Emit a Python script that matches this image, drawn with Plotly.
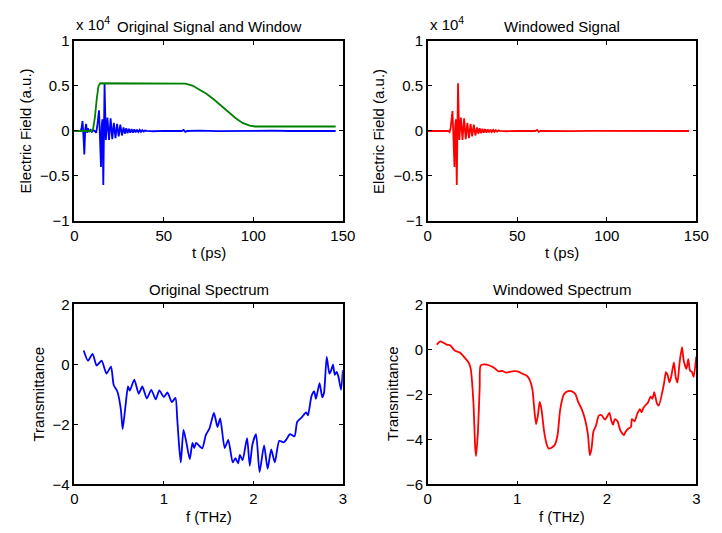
import numpy as np
import plotly.graph_objects as go

# ---- time-domain signal (units of 1e4) ----
sig_t = [0, 2, 3.6, 4.1, 4.6, 5.1, 5.6, 6.1, 6.6, 7.1, 7.6, 8.3, 9.0, 9.8, 10.6, 11.4,
         12.2, 12.8, 13.3, 13.8, 14.3, 14.9, 15.3, 15.7, 16.2, 16.9,
         17.6, 18.5, 19.4, 20.3, 21.2, 22.1, 23.0, 23.9, 24.8, 25.7, 26.6, 27.5,
         28.25, 29.0, 29.75, 30.5, 31.25, 32.0, 32.75, 33.5, 34.25, 35.0, 35.75, 36.5,
         37.25, 38.0, 38.75, 39.5,
         40.5, 44, 50, 56, 60, 61, 62, 63, 70, 80, 90, 100, 110, 120, 130, 140, 146]
sig_v = [0, 0, 0.0, 0.04, 0.11, -0.05, -0.26, 0.02, 0.08, -0.02, 0.03, -0.01, 0.01,
         -0.01, 0.01, 0.0, -0.02, 0.05, 0.15, 0.23, -0.05, -0.40, 0.05, 0.13, -0.60, 0.53,
         -0.10, 0.15, -0.10, 0.14, -0.09, 0.09, -0.08, 0.08, -0.06, 0.07, -0.05, 0.04,
         -0.03, 0.03, -0.025, 0.025, -0.02, 0.02, -0.018, 0.018, -0.015, 0.015, -0.012,
         0.012, -0.01, 0.01, -0.006, 0.005,
         0.0, -0.003, 0.002, 0, 0, 0.012, -0.01, 0, 0.003, -0.002, 0.002, 0,
         0.003, 0, 0.002, 0, 0]

# ---- window function (scaled for display) ----
win_t = [0, 9.5, 10.5, 11.5, 12.5, 13.5, 14.5, 58, 62, 66, 70, 74, 78, 82, 86, 90,
         94, 98, 101, 146]
win_v = [0.0, 0.0, 0.02, 0.15, 0.35, 0.5, 0.53, 0.53, 0.525, 0.505, 0.46, 0.41, 0.35,
         0.28, 0.21, 0.145, 0.09, 0.06, 0.05, 0.05]

# ---- spectra ----
orig_f = [0.105, 0.153, 0.204, 0.25, 0.305, 0.36, 0.41, 0.44, 0.48, 0.52, 0.54, 0.57,
          0.60, 0.62, 0.67, 0.72, 0.76, 0.81, 0.86, 0.91, 0.95, 1.00, 1.04, 1.09, 1.13,
          1.15, 1.17, 1.19, 1.22, 1.25, 1.29, 1.32, 1.34, 1.36, 1.40, 1.43, 1.47, 1.51,
          1.56, 1.60, 1.63, 1.68, 1.72, 1.77, 1.80, 1.83, 1.85, 1.88, 1.93, 1.96, 1.99,
          2.03, 2.07, 2.12, 2.16, 2.20, 2.24, 2.29, 2.34, 2.37, 2.41, 2.46, 2.49, 2.54,
          2.59, 2.61, 2.65, 2.68, 2.70, 2.74, 2.77, 2.79, 2.82, 2.85, 2.87, 2.89, 2.91,
          2.93, 2.95, 2.98, 3.0]
orig_v = [0.46, 0.12, 0.35, -0.04, 0.12, -0.31, -0.08, -0.69, -0.9, -1.5, -2.16, -1.44,
          -0.74, -0.88, -0.51, -0.98, -0.74, -1.14, -0.85, -1.17, -0.87, -1.09, -0.94,
          -1.26, -1.12, -1.82, -2.68, -3.27, -2.19, -2.57, -3.16, -2.62, -2.79, -2.62,
          -2.73, -2.8, -2.35, -2.14, -1.62, -2.09, -1.8, -2.79, -2.52, -3.27, -3.13, -3.3,
          -3.02, -3.2, -2.46, -3.38, -2.67, -2.33, -3.59, -2.7, -3.48, -2.84, -3.27,
          -2.55, -2.6, -2.5, -2.33, -2.4, -1.92, -1.77, -1.6, -1.7, -1.06, -0.9, -1.15,
          -0.63, -1.1, -0.95, 0.25, -0.31, -0.2, -0.01, -0.35, -0.25, -0.4, -0.85, -0.2]

win_f = [0.10, 0.14, 0.18, 0.21, 0.25, 0.30, 0.36, 0.41, 0.46, 0.48, 0.51, 0.53, 0.54,
         0.56, 0.58, 0.59, 0.63, 0.69, 0.74, 0.79, 0.83, 0.88, 0.94, 1.00, 1.07, 1.10,
         1.14, 1.17, 1.19, 1.21, 1.23, 1.25, 1.27, 1.30, 1.33, 1.35, 1.39, 1.42, 1.45,
         1.48, 1.52, 1.56, 1.61, 1.65, 1.68, 1.72, 1.76, 1.79, 1.81, 1.83, 1.85, 1.88,
         1.91, 1.94, 1.98, 2.03, 2.05, 2.07, 2.09, 2.12, 2.15, 2.19, 2.21, 2.24, 2.27,
         2.28, 2.31, 2.34, 2.37, 2.39, 2.41, 2.44, 2.46, 2.49, 2.51, 2.53, 2.56, 2.58,
         2.64, 2.66, 2.68, 2.70, 2.72, 2.75, 2.77, 2.79, 2.81, 2.84, 2.86, 2.89, 2.91,
         2.93, 2.95, 2.97, 3.0]
win_s = [0.21, 0.35, 0.28, 0.21, 0.18, -0.05, -0.15, -0.36, -0.62, -0.87, -2.37, -4.38,
         -4.74, -3.7, -1.66, -0.72, -0.67, -0.72, -0.82, -0.98, -0.96, -1.04, -0.98,
         -0.98, -1.11, -1.15, -1.37, -1.8, -2.66, -3.33, -2.95, -2.34, -2.66, -3.66,
         -4.24, -4.41, -4.35, -4.24, -3.81, -2.66, -2.01, -1.87, -1.87, -2.0, -2.34,
         -2.66, -3.16, -3.81, -4.71, -4.4, -3.66, -3.38, -2.95, -2.92, -3.12, -2.83,
         -3.16, -3.35, -3.1, -3.2, -3.59, -3.81, -3.66, -3.52, -3.45, -3.1, -3.2, -2.87,
         -2.66, -2.8, -2.59, -2.45, -2.37, -2.1, -2.2, -1.9, -2.4, -2.5, -1.51, -1.01,
         -1.15, -1.47, -1.2, -0.58, -1.24, -1.47, -0.7, 0.09, -0.52, -0.87, -0.44, -0.95,
         -1.0, -1.23, -0.32]

# windowed signal = signal multiplied by the normalised window
w_at_sig = np.interp(sig_t, win_t, win_v) / max(win_v)
windowed_v = np.array(sig_v) * w_at_sig

W, H = 722, 533
FONT = "Liberation Sans, Arial, sans-serif"
FS = 15
BLUE, GREEN, RED = "#0000FF", "#008000", "#FF0000"

# plot areas in pixels (left, right, top, bottom)
boxes = {
    1: (72, 347, 33, 219),
    2: (434, 709, 33, 219),
    3: (72, 347, 305, 491),
    4: (434, 709, 305, 491),
}

fig = go.Figure()
lw = 1.8
spl = dict(shape="spline", smoothing=0.6)
fig.add_trace(go.Scatter(x=sig_t, y=sig_v, mode="lines", line=dict(color=BLUE, width=lw),
                         xaxis="x", yaxis="y"))
fig.add_trace(go.Scatter(x=win_t, y=win_v, mode="lines", line=dict(color=GREEN, width=lw),
                         xaxis="x", yaxis="y"))
fig.add_trace(go.Scatter(x=sig_t, y=windowed_v, mode="lines", line=dict(color=RED, width=lw),
                         xaxis="x2", yaxis="y2"))
fig.add_trace(go.Scatter(x=orig_f, y=orig_v, mode="lines",
                         line=dict(color=BLUE, width=lw, **spl), xaxis="x3", yaxis="y3"))
fig.add_trace(go.Scatter(x=win_f, y=win_s, mode="lines",
                         line=dict(color=RED, width=lw, **spl), xaxis="x4", yaxis="y4"))

common = dict(showline=True, linecolor="black", linewidth=1.5, mirror="ticks",
              ticks="inside", ticklen=4, tickwidth=1, tickcolor="black",
              showgrid=False, zeroline=False,
              tickfont=dict(family=FONT, size=FS, color="black"))

layout = dict(width=W, height=H, margin=dict(l=0, r=0, t=0, b=0),
              paper_bgcolor="white", plot_bgcolor="white", showlegend=False)

xranges = {1: [0, 150], 2: [0, 150], 3: [0, 3], 4: [0, 3]}
xticks = {1: [0, 50, 100, 150], 2: [0, 50, 100, 150], 3: [0, 1, 2, 3], 4: [0, 1, 2, 3]}
yranges = {1: [-1, 1], 2: [-1, 1], 3: [-4, 2], 4: [-6, 2]}
yticks = {1: [-1, -0.5, 0, 0.5, 1], 2: [-1, -0.5, 0, 0.5, 1],
          3: [-4, -2, 0, 2], 4: [-6, -4, -2, 0, 2]}

for i, (l, r, t, b) in boxes.items():
    sx = "" if i == 1 else str(i)
    layout["xaxis" + sx] = dict(common, domain=[l / W, r / W], range=xranges[i],
                                tickvals=xticks[i], anchor="y" + sx)
    layout["yaxis" + sx] = dict(common, domain=[1 - b / H, 1 - t / H], range=yranges[i],
                                tickvals=yticks[i], anchor="x" + sx)

fig.update_layout(**layout)

titles = {1: "Original Signal and Window", 2: "Windowed Signal",
          3: "Original Spectrum", 4: "Windowed Spectrum"}
xtitles = {1: "t (ps)", 2: "t (ps)", 3: "f (THz)", 4: "f (THz)"}
ytitles = {1: ("Electric Field (a.u.)", 22), 2: ("Electric Field (a.u.)", 384),
           3: ("Transmittance", 35), 4: ("Transmittance", 398)}

ann = []
txt = dict(family=FONT, size=FS, color="black")
for i, (l, r, t, b) in boxes.items():
    cx = (l + r) / 2
    ann.append(dict(text=titles[i], x=cx / W, y=1 - (t - 15) / H, xref="paper", yref="paper",
                    xanchor="center", yanchor="middle", showarrow=False, font=txt))
    ann.append(dict(text=xtitles[i], x=cx / W, y=1 - (b + 33) / H, xref="paper", yref="paper",
                    xanchor="center", yanchor="middle", showarrow=False, font=txt))
    yt, yx = ytitles[i]
    ann.append(dict(text=yt, x=yx / W, y=1 - ((t + b) / 2) / H, xref="paper", yref="paper",
                    xanchor="center", yanchor="middle", showarrow=False, textangle=-90,
                    font=txt))
for l in (72, 434):
    ann.append(dict(text="x 10<sup>4</sup>", x=l / W, y=1 - 27 / H, xref="paper",
                    yref="paper", xanchor="left", yanchor="bottom", showarrow=False,
                    font=txt))
fig.update_layout(annotations=ann)

fig.write_html("out.html")
